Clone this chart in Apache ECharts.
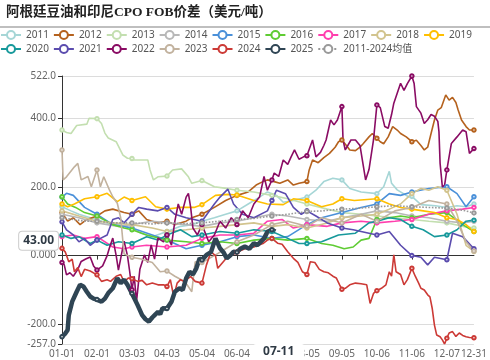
<!DOCTYPE html>
<html><head><meta charset="utf-8">
<script src="https://cdn.jsdelivr.net/npm/echarts@6/dist/echarts.min.js"></script>
<style>html,body{margin:0;padding:0;background:#fff}#c{width:490px;height:360px}</style>
</head><body><div id="c"></div>
<script>
// categories: 2024 calendar days MM-DD (366)
const monthLengths = [31,29,31,30,31,30,31,31,30,31,30,31];
const categories = [];
monthLengths.forEach((n, m) => { for (let d = 1; d <= n; d++) categories.push(String(m+1).padStart(2,'0') + '-' + String(d).padStart(2,'0')); });

const seriesNames = ['2011','2012','2013','2014','2015','2016','2017','2018','2019','2020','2021','2022','2023','2024','2025','2011-2024均值'];
const seriesColors = ['#a6d6d6','#b5621e','#c3dfb0','#b8b8b8','#4a90d9','#5fcc33','#ff3fae','#d2c48e','#ffbf00','#17999b','#5b4cae','#8a0c64','#c2b29e','#cc3a36','#2f4554','#999999'];

// values as [dayIndex, value]
const y2011 = [[0,142],[8,130],[15,120],[25,110],[31,105],[40,95],[50,90],[62,80],[70,65],[80,55],[93,70],[105,85],[115,90],[124,100],[135,110],[145,120],[155,130],[165,150],[175,170],[182,185],[190,175],[196,155],[205,160],[217,170],[225,190],[232,215],[240,225],[248,220],[255,195],[265,185],[279,180],[285,200],[290,245],[292,210],[297,191],[307,171],[310,172],[318,148],[331,145],[341,140],[350,145],[358,142],[365,150]];
const y2012 = [[0,125],[5,100],[10,110],[16,90],[22,105],[31,115],[38,130],[45,135],[55,125],[62,120],[68,130],[75,105],[85,95],[93,100],[100,90],[110,100],[115,110],[124,120],[135,140],[145,160],[155,175],[165,185],[172,205],[178,215],[182,220],[188,215],[193,210],[200,220],[205,205],[210,210],[217,215],[219,249],[222,278],[227,270],[232,285],[237,297],[242,315],[245,331],[248,336],[252,320],[255,307],[260,305],[264,315],[267,326],[272,345],[275,355],[279,341],[282,331],[285,325],[289,345],[293,375],[297,365],[300,355],[305,345],[310,331],[314,335],[318,320],[321,307],[324,315],[327,355],[330,394],[333,423],[336,430],[340,467],[343,452],[346,460],[349,445],[351,423],[354,394],[358,375],[361,365],[365,365]];
const y2013 = [[0,365],[4,358],[8,355],[13,378],[22,382],[24,399],[31,398],[35,384],[38,356],[41,342],[48,331],[54,292],[58,283],[62,282],[64,278],[76,278],[78,249],[81,220],[85,229],[93,231],[98,249],[106,252],[112,229],[115,210],[124,218],[135,200],[144,196],[155,190],[170,185],[186,175],[200,165],[217,150],[235,135],[248,125],[265,120],[279,115],[295,110],[310,105],[325,100],[341,95],[355,85],[365,80]];
const y2014 = [[0,120],[15,110],[31,95],[50,85],[62,90],[80,100],[93,95],[110,90],[124,85],[140,95],[155,100],[170,110],[186,120],[200,115],[217,105],[235,100],[248,110],[265,120],[279,130],[295,125],[310,115],[325,110],[341,100],[355,95],[365,100]];
const y2015 = [[0,170],[4,181],[10,175],[20,140],[31,120],[45,90],[62,80],[80,60],[93,45],[110,20],[124,30],[140,40],[155,55],[170,60],[186,50],[200,55],[217,90],[230,110],[248,125],[265,140],[279,150],[290,180],[300,175],[310,185],[325,195],[341,200],[350,180],[358,142],[365,171]];
const y2016 = [[0,171],[5,150],[12,140],[20,125],[31,115],[45,90],[55,80],[62,75],[75,60],[93,45],[110,40],[124,35],[140,40],[155,35],[170,45],[186,50],[200,45],[217,50],[230,35],[240,30],[250,20],[258,25],[265,45],[272,50],[279,105],[290,110],[300,115],[310,110],[325,120],[341,125],[355,90],[365,70]];
const y2017 = [[0,55],[10,60],[20,50],[31,55],[45,25],[55,20],[62,25],[75,30],[93,25],[110,30],[124,50],[140,60],[155,60],[170,65],[182,100],[195,105],[205,80],[217,90],[235,85],[248,95],[265,100],[279,95],[295,100],[310,105],[325,120],[341,130],[355,135],[365,140]];
const y2018 = [[0,130],[15,115],[31,100],[45,95],[62,90],[80,80],[93,70],[110,75],[124,80],[140,85],[155,90],[170,95],[186,85],[200,90],[217,80],[235,95],[248,110],[265,115],[279,120],[290,135],[300,150],[310,180],[318,195],[325,190],[333,200],[341,190],[350,120],[358,30],[365,12]];
const y2019 = [[0,150],[5,142],[11,150],[20,165],[31,171],[40,181],[49,157],[55,170],[62,160],[74,171],[83,142],[93,135],[104,140],[117,140],[124,148],[136,175],[147,178],[155,176],[170,160],[182,150],[196,148],[205,165],[217,160],[230,142],[240,150],[248,165],[259,160],[279,165],[290,150],[300,140],[310,135],[320,130],[330,125],[341,110],[350,105],[358,90],[365,70]];
const y2020 = [[0,60],[8,50],[15,55],[25,35],[31,45],[40,30],[50,40],[62,35],[75,55],[85,45],[93,60],[105,75],[115,55],[124,60],[140,70],[155,65],[170,75],[186,70],[200,50],[210,35],[217,35],[230,40],[245,60],[260,65],[272,95],[279,100],[290,110],[300,105],[310,85],[320,75],[330,55],[341,60],[350,75],[358,100],[365,103]];
const y2021 = [[0,98],[4,75],[10,60],[15,40],[20,50],[25,30],[31,45],[40,60],[45,105],[50,110],[55,95],[62,120],[68,140],[75,135],[85,130],[93,140],[100,120],[110,110],[124,100],[135,150],[140,170],[147,193],[152,150],[160,120],[170,110],[182,130],[186,160],[190,190],[198,180],[205,140],[212,120],[217,130],[225,115],[235,95],[248,80],[258,75],[265,70],[279,60],[290,70],[300,30],[310,0],[318,-5],[324,-27],[330,-5],[341,-12],[346,65],[355,55],[365,20]];
const y2022 = [[0,-20],[2,-27],[4,-56],[7,-50],[10,-60],[14,-40],[17,-17],[21,-10],[25,-4],[28,-30],[31,-42],[36,-30],[40,0],[42,22],[45,51],[48,0],[50,-42],[55,42],[58,0],[60,-47],[62,-99],[64,-60],[66,-134],[69,-40],[73,2],[76,-20],[79,31],[82,-10],[85,51],[90,40],[93,60],[97,30],[100,100],[103,150],[106,120],[110,170],[112,181],[114,140],[116,80],[120,60],[124,90],[130,40],[135,60],[140,100],[145,80],[150,110],[155,90],[160,130],[165,110],[170,150],[175,170],[179,230],[182,190],[186,220],[188,240],[192,230],[196,278],[200,265],[203,287],[206,307],[210,280],[214,287],[217,290],[222,336],[225,287],[229,300],[232,320],[234,336],[238,394],[241,380],[244,394],[248,433],[249,336],[251,307],[256,336],[260,336],[264,320],[269,220],[272,250],[276,336],[279,438],[282,430],[286,375],[289,370],[292,410],[294,443],[297,472],[300,501],[303,480],[306,500],[310,522],[312,500],[314,433],[318,414],[321,384],[324,395],[327,410],[330,405],[333,390],[334,360],[335,268],[337,200],[339,205],[341,249],[345,326],[350,345],[355,365],[358,360],[361,297],[365,311]];
const y2023 = [[0,307],[1,220],[4,229],[11,258],[14,268],[17,220],[23,230],[26,200],[31,249],[34,200],[37,229],[42,191],[45,171],[49,152],[52,110],[55,5],[62,-5],[70,-10],[80,-20],[87,-47],[93,-45],[100,-60],[109,-76],[115,-105],[118,-18],[124,-20],[135,0],[145,20],[155,40],[170,60],[186,90],[200,100],[217,85],[230,110],[248,95],[265,120],[279,100],[295,130],[310,140],[325,160],[341,150],[350,100],[358,40],[365,13]];
const y2024 = [[0,21],[3,10],[6,-18],[9,-10],[11,-47],[14,-35],[17,-61],[20,-40],[25,-45],[31,-56],[35,-75],[40,-70],[43,-75],[48,-60],[52,-55],[55,-76],[59,-65],[62,-67],[67,-75],[71,-72],[75,-85],[80,-80],[85,-85],[90,-85],[93,-90],[96,-70],[99,-119],[102,-80],[105,-70],[108,-75],[114,-61],[118,-75],[124,-80],[128,-27],[132,11],[136,0],[138,-37],[145,-10],[150,0],[155,10],[162,20],[170,25],[178,35],[182,45],[186,50],[191,36],[195,33],[200,11],[205,-8],[209,-20],[213,-47],[217,-55],[220,-18],[224,-20],[228,-40],[232,-47],[236,-50],[240,-60],[243,-65],[246,-85],[248,-98],[251,-95],[255,-85],[260,-80],[265,-82],[270,-85],[273,-139],[276,-110],[279,-102],[283,-95],[287,-85],[290,-47],[292,-60],[294,2],[296,-47],[300,-55],[303,-85],[306,-70],[310,-37],[313,-60],[316,-80],[318,-95],[321,-100],[324,-114],[326,-120],[328,-153],[330,-202],[332,-231],[335,-236],[337,-245],[339,-257],[341,-240],[343,-225],[346,-221],[349,-235],[352,-225],[355,-232],[358,-236],[361,-238],[365,-239]];
const y2025 = [[0,-236],[3,-226],[5,-216],[6,-173],[9,-134],[13,-105],[16,-85],[19,-90],[22,-105],[25,-119],[28,-125],[31,-128],[35,-134],[38,-125],[41,-109],[45,-95],[49,-66],[52,-80],[55,-70],[58,-85],[62,-110],[67,-144],[71,-173],[74,-185],[77,-192],[80,-180],[83,-170],[85,-164],[87,-170],[89,-153],[93,-154],[97,-134],[100,-105],[104,-95],[107,-100],[110,-66],[113,-47],[116,-55],[119,-37],[122,-8],[124,-13],[128,2],[132,10],[136,50],[140,21],[143,10],[146,-8],[149,0],[152,11],[155,10],[158,20],[162,26],[166,20],[170,36],[173,30],[176,40],[179,50],[182,69],[186,75],[189,70]];
const yAvg = [[0,110],[10,105],[20,100],[31,100],[45,95],[62,95],[80,92],[93,95],[110,93],[124,95],[140,100],[155,105],[170,108],[186,115],[200,120],[217,128],[230,130],[248,135],[265,138],[279,142],[295,145],[310,142],[325,140],[341,138],[355,132],[365,124]];
const seriesData = [y2011,y2012,y2013,y2014,y2015,y2016,y2017,y2018,y2019,y2020,y2021,y2022,y2023,y2024,y2025,yAvg];

const yMin = -257, yMax = 522;
const pointerX = '07-11', pointerY = 43;
const labelStep = 31;

const chart = echarts.init(document.getElementById('c'), null, {renderer:'canvas'});
const fontSans = "'Noto Sans', 'Noto Sans CJK SC', sans-serif";
const lastIdx = categories.length - 1;
const series = seriesNames.map((name, i) => ({
  name, type: 'line',
  data: seriesData[i].map(p => ({value: p, symbol: (p[0] % labelStep === 0 || p[0] === lastIdx) ? 'emptyCircle' : 'none'})),
  xAxisIndex: 0, yAxisIndex: 0,
  symbol: 'emptyCircle', symbolSize: 3.5, showSymbol: true, showAllSymbol: true,
  itemStyle: {color: seriesColors[i], borderWidth: 1},
  lineStyle: {color: seriesColors[i], width: name === '2025' ? 4.5 : 1.6, type: i === 15 ? 'dotted' : 'solid'},
  emphasis: {disabled: true}, animation: false
}));
chart.setOption({
  animation: false,
  title: {text: '阿根廷豆油和印尼CPO FOB价差（美元/吨）', left: 1, top: 1,
    textStyle: {fontSize: 13.5, fontWeight: 'bold', color: '#222', fontFamily: "'Liberation Serif', 'Noto Sans CJK SC', serif"}},
  graphic: [{type: 'line', shape: {x1: 0, y1: 27, x2: 490, y2: 27}, style: {stroke: '#aaa', lineWidth: 1.5}, silent: true}],
  legend: {left: 0, top: 30, padding: 0, itemWidth: 20, itemHeight: 10, itemGap: 4, width: 490,
    textStyle: {fontSize: 10, color: '#555', fontFamily: fontSans}, data: seriesNames},
  grid: {left: 62, right: 16, top: 76, bottom: 16},
  xAxis: [{
    type: 'category', data: categories, boundaryGap: false, position: 'bottom',
    axisLine: {show: false, onZero: false}, axisTick: {show: false},
    axisLabel: {interval: 30, showMaxLabel: true, fontSize: 10, color: '#666', margin: 5, fontFamily: fontSans},
    splitLine: {show: false},
    axisPointer: {show: true, type: 'line', value: pointerX, status: 'show', snap: false, triggerTooltip: false,
      lineStyle: {opacity: 0},
      label: {show: true, backgroundColor: '#fff', color: '#2f3a45', fontWeight: 'bold', fontSize: 12, padding: [2, 10], margin: 3, fontFamily: fontSans}}
  }, {
    type: 'category', data: categories, boundaryGap: false, position: 'bottom',
    axisLine: {show: true, onZero: true, lineStyle: {color: '#333', width: 1}},
    axisTick: {show: true, interval: 30, length: 4, lineStyle: {color: '#333'}},
    axisLabel: {show: false}, splitLine: {show: false}
  }],
  yAxis: {
    type: 'value', min: yMin, max: yMax,
    axisLine: {show: true, lineStyle: {color: '#333'}},
    axisTick: {show: true, length: 4, lineStyle: {color: '#333'}},
    axisLabel: {fontSize: 10, color: '#666', margin: 6, fontFamily: fontSans, formatter: v => Number(v).toPrecision(4)},
    splitLine: {show: true, lineStyle: {color: '#dcdcdc', width: 1}},
    axisPointer: {show: true, type: 'line', value: pointerY, status: 'show', snap: false, triggerTooltip: false,
      lineStyle: {opacity: 0},
      label: {show: true, backgroundColor: '#fff', borderColor: '#ccc', borderWidth: 1, color: '#2f3a45', fontWeight: 'bold', fontSize: 12, padding: [3, 4], margin: 4, fontFamily: fontSans,
        formatter: p => Number(p.value).toPrecision(4)}}
  },
  series
});
</script></body></html>
